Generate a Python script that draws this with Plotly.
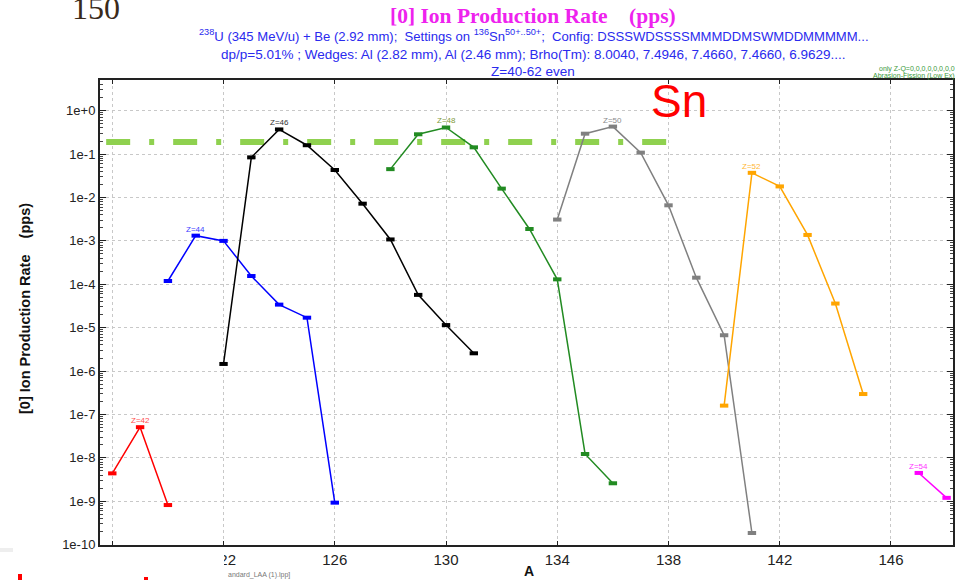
import math
import plotly.graph_objects as go

# ---------------- data ----------------
A42 = [118, 119, 120]
R42 = [4.4e-9, 5.1e-8, 8.2e-10]
A44 = [120, 121, 122, 123, 124, 125, 126]
R44 = [1.19e-4, 1.32e-3, 1.0e-3, 1.55e-4, 3.4e-5, 1.7e-5, 9.3e-10]
A46 = [122, 123, 124, 125, 126, 127, 128, 129, 130, 131]
R46 = [1.46e-6, 0.084, 0.37, 0.16, 0.043, 7.2e-3, 1.08e-3, 5.7e-5, 1.15e-5, 2.57e-6]
A48 = [128, 129, 130, 131, 132, 133, 134, 135, 136]
R48 = [0.045, 0.286, 0.41, 0.143, 0.016, 1.88e-3, 1.3e-4, 1.23e-8, 2.6e-9]
A50 = [134, 135, 136, 137, 138, 139, 140, 141]
R50 = [3.1e-3, 0.295, 0.43, 0.108, 6.6e-3, 1.42e-4, 6.7e-6, 1.86e-10]
A52 = [140, 141, 142, 143, 144, 145]
R52 = [1.6e-7, 0.037, 0.018, 1.37e-3, 3.6e-5, 2.96e-7]
A54 = [147, 148]
R54 = [4.5e-9, 1.2e-9]

series = [
    ("Z=42", A42, R42, "#ff0000", "#ff5050", 119),
    ("Z=44", A44, R44, "#0000ff", "#3a3aff", 121),
    ("Z=46", A46, R46, "#000000", "#333333", 124),
    ("Z=48", A48, R48, "#228b22", "#7f9a3a", 130),
    ("Z=50", A50, R50, "#808080", "#8a8a8a", 136),
    ("Z=52", A52, R52, "#ffa500", "#ffb732", 141),
    ("Z=54", A54, R54, "#ff00ff", "#ff33ff", 147),
]

LIMIT_A = [117.78, 138.0]
LIMIT_R = [0.19, 0.19]

X_TICKS = [118, 122, 126, 130, 134, 138, 142, 146]
Y_TICKVALS = [10.0 ** -k for k in range(0, 11)]
Y_TICKTEXT = ["1e+0"] + ["1e-%d" % k for k in range(1, 11)]
Y_MINOR = [m * 10.0 ** -k for k in range(1, 11) for m in range(2, 10)] + [m for m in range(2, 5)]

# ---------------- figure ----------------
W, H = 967, 580
L, R, T, B = 100, 14, 80, 35
PW, PH = W - L - R, H - T - B


def px(x):
    return (x - L) / PW


def py(y):
    return (H - B - y) / PH


fig = go.Figure()

fig.add_trace(go.Scatter(
    x=LIMIT_A, y=LIMIT_R, mode="lines",
    line=dict(color="#8fd14f", width=6, dash="24px,19px,5px,19px"),
    showlegend=False, hoverinfo="skip"))

annotations = []
for name, xs, ys, col, lcol, peak in series:
    fig.add_trace(go.Scatter(
        x=xs, y=ys, mode="lines+markers", name=name,
        line=dict(color=col, width=1.5),
        marker=dict(symbol="line-ew", size=6, color=col,
                    line=dict(color=col, width=4)),
        showlegend=False))
    annotations.append(dict(
        x=peak, y=math.log10(ys[xs.index(peak)]), xref="x", yref="y",
        text=name, showarrow=False, yanchor="bottom", yshift=0,
        font=dict(family="Liberation Sans Narrow, Arial", size=8, color=lcol)))

BLUE = "#2a2aee"
annotations += [
    dict(x=px(96), y=py(28), xref="paper", yref="paper", text="150", showarrow=False,
         xanchor="center", yanchor="bottom",
         font=dict(family="Liberation Serif", size=32, color="#3a2a1a")),
    dict(x=px(533), y=py(16), xref="paper", yref="paper",
         text="<b>[0] Ion Production Rate\u00a0\u00a0\u00a0\u00a0(pps)</b>", showarrow=False,
         xanchor="center", yanchor="middle",
         font=dict(family="Liberation Serif", size=21.5, color="#ee22ee")),
    dict(x=px(534), y=py(36), xref="paper", yref="paper",
         text="<sup>238</sup>U (345 MeV/u) + Be (2.92 mm);\u00a0\u00a0Settings on <sup>136</sup>Sn<sup>50+..50+</sup>;\u00a0\u00a0Config: DSSSWDSSSSMMMDDMSWMDDMMMMM...",
         showarrow=False, xanchor="center", yanchor="middle",
         font=dict(family="Liberation Sans", size=13.1, color=BLUE)),
    dict(x=px(533), y=py(54), xref="paper", yref="paper",
         text="dp/p=5.01% ; Wedges: Al (2.82 mm), Al (2.46 mm); Brho(Tm): 8.0040, 7.4946, 7.4660, 7.4660, 6.9629....",
         showarrow=False, xanchor="center", yanchor="middle",
         font=dict(family="Liberation Sans", size=13.5, color=BLUE)),
    dict(x=px(533), y=py(71), xref="paper", yref="paper", text="Z=40-62 even",
         showarrow=False, xanchor="center", yanchor="middle",
         font=dict(family="Liberation Sans", size=13.5, color=BLUE)),
    dict(x=px(957), y=py(69), xref="paper", yref="paper", text="only Z-Q=0,0,0,0,0,0,0,0",
         showarrow=False, xanchor="right", yanchor="middle",
         font=dict(family="Liberation Sans Narrow, Arial", size=7, color="#3a9a3a")),
    dict(x=px(957), y=py(76), xref="paper", yref="paper", text="Abrasion-Fission (Low Ex)",
         showarrow=False, xanchor="right", yanchor="middle",
         font=dict(family="Liberation Sans Narrow, Arial", size=7, color="#3a9a3a")),
    dict(x=px(679), y=py(101), xref="paper", yref="paper", text="Sn",
         showarrow=False, xanchor="center", yanchor="middle",
         font=dict(family="Liberation Sans", size=46, color="#ff0000")),
    dict(x=px(25), y=py(309), xref="paper", yref="paper",
         text="<b>[0] Ion Production Rate\u00a0\u00a0\u00a0\u00a0(pps)</b>", textangle=-90,
         showarrow=False, xanchor="center", yanchor="middle",
         font=dict(family="Liberation Sans", size=14.5, color="#111111")),
    dict(x=px(529), y=py(571), xref="paper", yref="paper", text="<b>A</b>",
         showarrow=False, xanchor="center", yanchor="middle",
         font=dict(family="Liberation Sans Narrow, Arial", size=14, color="#111111")),
    dict(x=px(226), y=py(575), xref="paper", yref="paper", text="andard_LAA (1).lpp]",
         showarrow=False, xanchor="left", yanchor="middle",
         font=dict(family="Liberation Sans Narrow, Arial", size=7, color="#777777")),
]

shapes = [
    dict(type="rect", xref="paper", yref="paper", x0=px(0), x1=px(224), y0=py(554), y1=py(568),
         fillcolor="white", line=dict(width=0), layer="above"),
    dict(type="rect", xref="paper", yref="paper", x0=px(0), x1=px(13), y0=py(548), y1=py(552),
         fillcolor="#eeeeee", line=dict(width=0), layer="above"),
    dict(type="rect", xref="paper", yref="paper", x0=px(18), x1=px(22), y0=py(574), y1=py(580),
         fillcolor="#ff0000", line=dict(width=0), layer="above"),
    dict(type="rect", xref="paper", yref="paper", x0=px(144), x1=px(148), y0=py(577), y1=py(580),
         fillcolor="#ff0000", line=dict(width=0), layer="above"),
]

fig.update_layout(
    width=W, height=H,
    margin=dict(l=L, r=R, t=T, b=B, pad=0),
    paper_bgcolor="white", plot_bgcolor="white",
    annotations=annotations, shapes=shapes,
    xaxis=dict(
        range=[117.558, 148.23], tickvals=X_TICKS, ticktext=[str(v) for v in X_TICKS],
        showgrid=True, gridcolor="#c8c8c8", griddash="dot", gridwidth=1,
        zeroline=False, showline=True, linecolor="#222222", linewidth=2, mirror="allticks",
        ticks="inside", ticklen=4, tickcolor="#222222",
        tickfont=dict(family="Liberation Sans Narrow, Arial", size=15, color="#222222"),
    ),
    yaxis=dict(
        type="log", range=[-10.007, 0.707],
        tickvals=Y_TICKVALS, ticktext=Y_TICKTEXT,
        showgrid=True, gridcolor="#c8c8c8", griddash="dot", gridwidth=1,
        zeroline=False, showline=True, linecolor="#222222", linewidth=2, mirror="allticks",
        ticks="inside", ticklen=6, tickcolor="#222222",
        minor=dict(tickvals=Y_MINOR, ticks="inside", ticklen=3, tickcolor="#444444", showgrid=False),
        tickfont=dict(family="Liberation Sans", size=13, color="#222222"),
    ),
)

fig.write_html("out.html", config={"displayModeBar": False},
               post_script="document.body.style.margin='0';document.body.style.padding='0';")
